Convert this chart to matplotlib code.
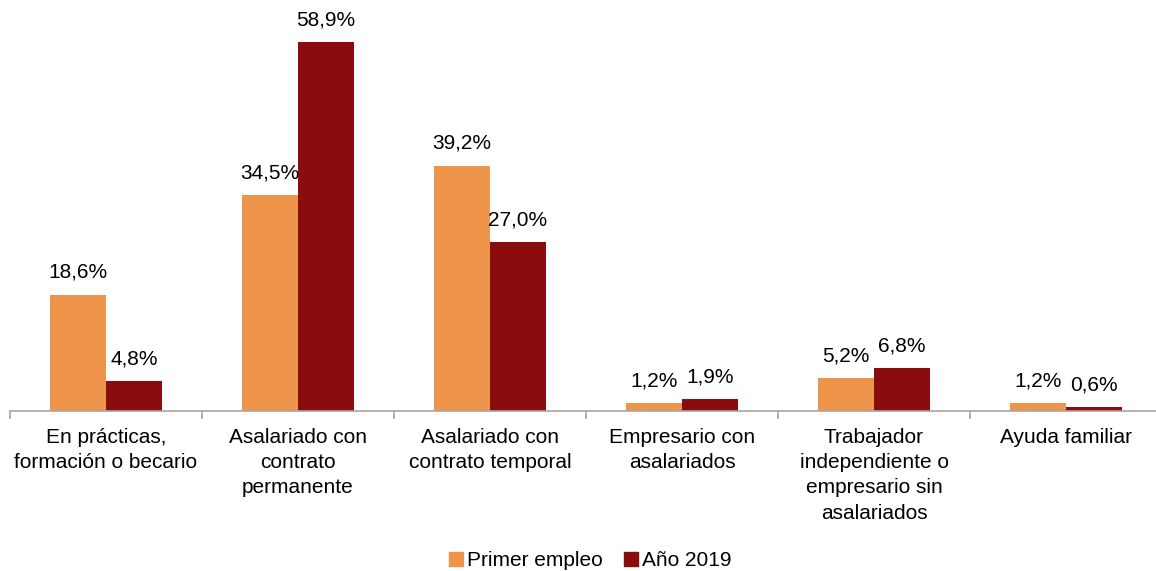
import numpy as np
import matplotlib.pyplot as plt
from matplotlib.lines import Line2D

plt.rcParams['font.family'] = ['Liberation Sans', 'DejaVu Sans']

categories = [
    'En prácticas,\nformación o becario',
    'Asalariado con\ncontrato\npermanente',
    'Asalariado con\ncontrato temporal',
    'Empresario con\nasalariados',
    'Trabajador\nindependiente o\nempresario sin\nasalariados',
    'Ayuda familiar',
]
primer_empleo = [18.6, 34.5, 39.2, 1.2, 5.2, 1.2]
anio_2019 = [4.8, 58.9, 27.0, 1.9, 6.8, 0.6]
series_names = ['Primer empleo', 'Año 2019']
colors = ['#EE954B', '#8B0C0C']

fig = plt.figure(figsize=(11.56, 5.71), dpi=100)
ax = fig.add_axes([10 / 1156, 160 / 571, 1152 / 1156, 407 / 571])

x = np.arange(len(categories))
w = 0.292
bars1 = ax.bar(x - w / 2, primer_empleo, w, color=colors[0])
bars2 = ax.bar(x + w / 2, anio_2019, w, color=colors[1])

# value labels above each bar, Spanish decimal comma
for bars, vals in [(bars1, primer_empleo), (bars2, anio_2019)]:
    for b, v in zip(bars, vals):
        ax.annotate(f'{v:.1f}%'.replace('.', ','),
                    xy=(b.get_x() + b.get_width() / 2, v),
                    xytext=(0, 16), textcoords='offset points',
                    ha='center', va='center', fontsize=15, color='#000000')

ax.set_xlim(-0.5, len(categories) - 0.5)
ax.set_ylim(0, 65)
ax.set_yticks([])
for s in ['top', 'right', 'left']:
    ax.spines[s].set_visible(False)
ax.spines['bottom'].set_color('#A6A6A6')
ax.spines['bottom'].set_linewidth(1.2)

ax.set_xticks(x)
ax.set_xticklabels(categories, fontsize=15, linespacing=1.42)
ax.tick_params(axis='x', which='major', length=0, pad=12)
ax.set_xticks(np.arange(-0.5, len(categories)), minor=True)
ax.tick_params(axis='x', which='minor', length=6, color='#A6A6A6', width=1.2)

handles = [Line2D([], [], marker='s', linestyle='none', markersize=10.5,
                  markerfacecolor=c, markeredgecolor=c) for c in colors]
fig.legend(handles, series_names, loc='center', bbox_to_anchor=(0.51, 0.018),
           ncol=2, frameon=False, fontsize=15, handletextpad=0.1,
           columnspacing=1.0, handlelength=0.8)

fig.savefig('out.png', dpi=100)
